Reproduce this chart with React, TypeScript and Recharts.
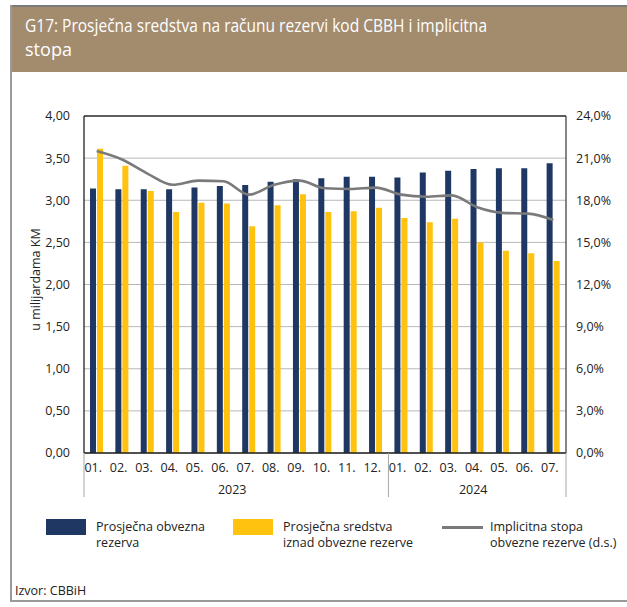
import React from "react";
import {
  ComposedChart,
  Bar,
  Line,
  XAxis,
  YAxis,
  CartesianGrid,
  ReferenceLine,
} from "recharts";

const months = ["01.", "02.", "03.", "04.", "05.", "06.", "07.", "08.", "09.", "10.", "11.", "12.", "01.", "02.", "03.", "04.", "05.", "06.", "07."];
const years = ["2023", "2024"];
const monthsPerYear = [12, 7];
const obvezna = [3.14, 3.13, 3.13, 3.13, 3.15, 3.17, 3.18, 3.22, 3.25, 3.26, 3.28, 3.28, 3.27, 3.33, 3.35, 3.37, 3.38, 3.38, 3.44];
const iznad = [3.61, 3.41, 3.11, 2.86, 2.97, 2.96, 2.69, 2.94, 3.07, 2.86, 2.87, 2.91, 2.79, 2.74, 2.78, 2.5, 2.4, 2.37, 2.28];
const stopa = [21.5, 20.9, 19.9, 19.1, 19.4, 19.35, 18.4, 19.1, 19.4, 18.85, 18.8, 18.9, 18.4, 18.25, 18.35, 17.5, 17.1, 17.05, 16.6];
const leftTicks = [0, 0.5, 1, 1.5, 2, 2.5, 3, 3.5, 4];
const rightTicks = [0, 3, 6, 9, 12, 15, 18, 21, 24];

const seriesNames = [
  ["Prosječna obvezna", "rezerva"],
  ["Prosječna sredstva", "iznad obvezne rezerve"],
  ["Implicitna stopa", "obvezne rezerve (d.s.)"],
];
const titleLines = ["G17: Prosječna sredstva na računu rezervi kod CBBH i implicitna", "stopa"];
const yLabel = "u milijardama KM";
const source = "Izvor:  CBBiH";

const yearOf: string[] = [];
const groupStart: Record<number, number> = {};
{
  let idx = 0;
  monthsPerYear.forEach((n, g) => {
    groupStart[idx] = g;
    for (let k = 0; k < n; k++) yearOf.push(years[g]);
    idx += n;
  });
}

const data = months.map((m, i) => ({
  id: `${yearOf[i]}-${m}`,
  month: m,
  obvezna: obvezna[i],
  iznad: iznad[i],
  stopa: stopa[i],
}));

const BLUE = "#1f3763";
const YELLOW = "#ffc20e";
const GRAY_LINE = "#7a7a7a";
const FONT = "'Open Sans', sans-serif";
const TEXT = "#222";

function XTick(props: any) {
  const { x, y, payload, index } = props;
  const half = payload && typeof payload.offset === "number" && payload.offset > 0 ? payload.offset : 12.68;
  const parts: any[] = [];
  parts.push(
    <text key="m" x={x - 3.5} y={y + 19} textAnchor="middle" fontSize={12.5} fontFamily={FONT} fill={TEXT}>
      {months[index]}
    </text>
  );
  if (groupStart[index] !== undefined) {
    const g = groupStart[index];
    const left = x - half;
    parts.push(<line key="l" x1={left} x2={left} y1={y} y2={y + 44} stroke="#a6a6a6" strokeWidth={1} />);
    parts.push(
      <text key="y" x={left + monthsPerYear[g] * half - 4} y={y + 41} textAnchor="middle" fontSize={12.5} fontFamily={FONT} fill={TEXT}>
        {years[g]}
      </text>
    );
  }
  if (index === months.length - 1) {
    parts.push(<line key="r" x1={x + half} x2={x + half} y1={y} y2={y + 44} stroke="#a6a6a6" strokeWidth={1} />);
  }
  return <g>{parts}</g>;
}

function YLabel(props: any) {
  const vb = props.viewBox || { x: 0, y: 116, width: 84, height: 337 };
  const cx = 35;
  const cy = vb.y + vb.height / 2 - 5;
  return (
    <text x={cx} y={cy} transform={`rotate(-90, ${cx}, ${cy})`} textAnchor="middle" dominantBaseline="central" fontSize={12.5} fontFamily={FONT} fill={TEXT}>
      {yLabel}
    </text>
  );
}

export default function App() {
  return (
    <div style={{ position: "absolute", left: 0, top: 0, width: 627, height: 607, background: "#fff", fontFamily: FONT, overflow: "hidden" }}>
      {/* frame */}
      <div style={{ position: "absolute", left: 10, top: 5, width: 617, height: 2, background: "#7a7a7a" }} />
      <div style={{ position: "absolute", left: 10, top: 5, width: 2, height: 597, background: "#9a9a9a" }} />
      <div style={{ position: "absolute", left: 10, top: 600, width: 617, height: 2, background: "#9a9a9a" }} />
      {/* title band */}
      <div style={{ position: "absolute", left: 12, top: 7, width: 615, height: 65, background: "#a38b6e" }}>
        <svg width={615} height={65} style={{ position: "absolute", left: 0, top: 0 }}>
          <text x={13} y={25} fontSize={18} fontFamily={FONT} fill="#fff" textLength={462} lengthAdjust="spacingAndGlyphs">
            {titleLines[0]}
          </text>
          <text x={13} y={48.5} fontSize={18} fontFamily={FONT} fill="#fff" textLength={47} lengthAdjust="spacingAndGlyphs">
            {titleLines[1]}
          </text>
        </svg>
      </div>

      <div style={{ position: "absolute", left: 0, top: 0 }}>
        <ComposedChart
          width={627}
          height={520}
          data={data}
          margin={{ top: 116, right: 1, bottom: 0, left: 0 }}
          barSize={6}
          barGap={1}
        >
          <CartesianGrid yAxisId="left" vertical={false} stroke="#b8b8b8" strokeWidth={1} />
          <XAxis
            dataKey="id"
            interval={0}
            height={67}
            tickSize={0}
            tickMargin={0}
            tickLine={false}
            axisLine={{ stroke: "#222", strokeWidth: 1.3 }}
            tick={<XTick />}
          />
          <YAxis
            yAxisId="left"
            orientation="left"
            width={84}
            domain={[0, 4]}
            ticks={leftTicks}
            tickSize={0}
            tickMargin={14}
            tickLine={false}
            axisLine={{ stroke: "#222", strokeWidth: 1.3 }}
            tick={{ fontSize: 12.5, fontFamily: FONT, fill: TEXT }}
            tickFormatter={(v: number) => v.toFixed(2).replace(".", ",")}
            label={<YLabel />}
          />
          <YAxis
            yAxisId="right"
            orientation="right"
            width={60}
            domain={[0, 24]}
            ticks={rightTicks}
            tickSize={0}
            tickMargin={10}
            tickLine={false}
            axisLine={{ stroke: "#444", strokeWidth: 1.3 }}
            tick={{ fontSize: 12.5, fontFamily: FONT, fill: TEXT }}
            tickFormatter={(v: number) => v.toFixed(1).replace(".", ",") + "%"}
          />
          <ReferenceLine yAxisId="left" y={4} stroke="#333" strokeWidth={1.3} />
          <Bar yAxisId="left" dataKey="obvezna" fill={BLUE} isAnimationActive={false} />
          <Bar yAxisId="left" dataKey="iznad" fill={YELLOW} isAnimationActive={false} />
          <Line
            yAxisId="right"
            dataKey="stopa"
            type="monotone"
            stroke={GRAY_LINE}
            strokeWidth={2.6}
            dot={false}
            activeDot={false}
            isAnimationActive={false}
          />
        </ComposedChart>
      </div>

      {/* legend */}
      <div style={{ position: "absolute", left: 46, top: 519, width: 40, height: 16, background: BLUE }} />
      <div style={{ position: "absolute", left: 96, top: 519, fontSize: 12.5, lineHeight: "16px", color: TEXT, whiteSpace: "nowrap" }}>
        {seriesNames[0][0]}
        <br />
        {seriesNames[0][1]}
      </div>
      <div style={{ position: "absolute", left: 233, top: 519, width: 40, height: 16, background: YELLOW }} />
      <div style={{ position: "absolute", left: 283, top: 519, fontSize: 12.5, lineHeight: "16px", color: TEXT, whiteSpace: "nowrap" }}>
        {seriesNames[1][0]}
        <br />
        {seriesNames[1][1]}
      </div>
      <div style={{ position: "absolute", left: 442, top: 526, width: 41, height: 3, background: GRAY_LINE }} />
      <div style={{ position: "absolute", left: 490, top: 519, fontSize: 12.5, lineHeight: "16px", color: TEXT, whiteSpace: "nowrap" }}>
        {seriesNames[2][0]}
        <br />
        {seriesNames[2][1]}
      </div>
      <div style={{ position: "absolute", left: 15, top: 583, fontSize: 12.5, lineHeight: "16px", color: TEXT, whiteSpace: "nowrap" }}>
        {source}
      </div>
    </div>
  );
}
